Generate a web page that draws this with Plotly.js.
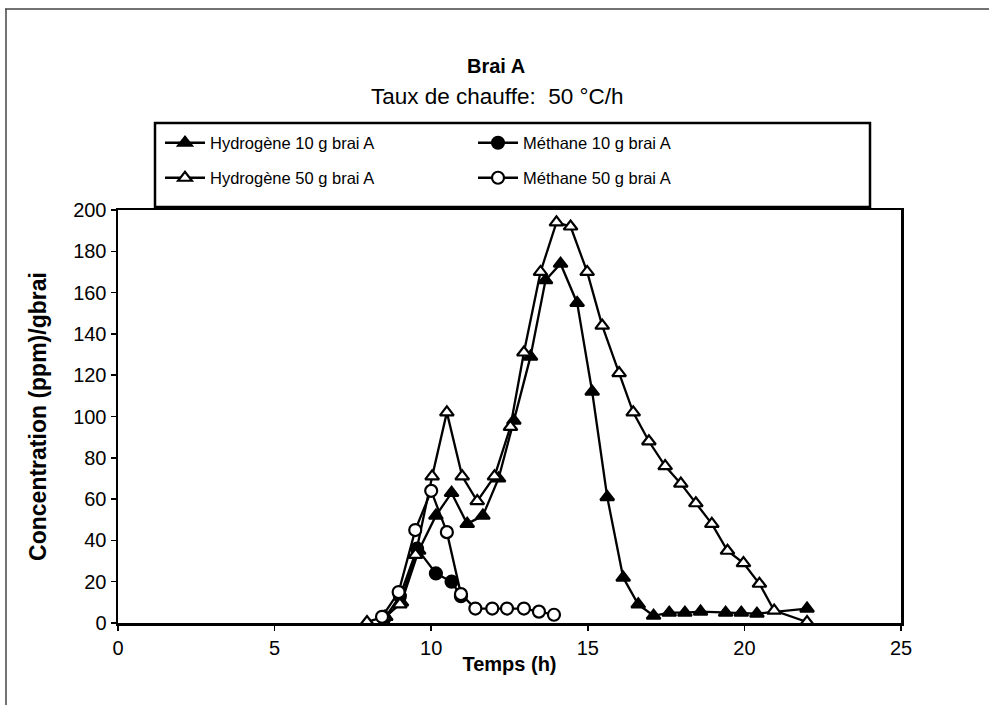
<!DOCTYPE html>
<html>
<head>
<meta charset="utf-8">
<script src="https://cdn.plot.ly/plotly-3.0.1.min.js"></script>
<style>html,body{margin:0;padding:0;background:#fff}#chart{width:989px;height:705px}</style>
</head>
<body>
<div id="chart"></div>
<script>
// ---- data ----
var h2_10_t = [8.55, 9.05, 9.6, 10.15, 10.65, 11.15, 11.65, 12.15, 12.64, 13.17, 13.65, 14.13, 14.66, 15.14, 15.62, 16.13, 16.61, 17.1, 17.6, 18.1, 18.6, 19.4, 19.9, 20.4, 22.0];
var h2_10_v = [3, 10, 35, 52, 63, 48, 52, 70, 98, 129, 166, 174, 155, 112, 61, 22, 9, 3.5, 5, 5, 5.5, 5, 5, 4.5, 7];

var h2_50_t = [7.95, 8.5, 9.0, 9.5, 10.03, 10.5, 10.99, 11.47, 12.02, 12.53, 12.96, 13.49, 14.0, 14.45, 14.98, 15.46, 16.0, 16.45, 16.95, 17.47, 17.97, 18.45, 18.96, 19.46, 19.97, 20.48, 20.95, 22.0];
var h2_50_v = [0.5, 3, 9, 33, 71, 102, 71, 59, 71, 95, 131, 170, 194, 192, 170, 144, 121, 102, 88, 76, 67.5, 58, 48, 35, 29, 19, 6, 0.5];

var ch4_10_t = [8.5, 9.0, 9.55, 10.15, 10.65, 10.95];
var ch4_10_v = [2, 13, 36, 24, 20, 13];

var ch4_50_t = [8.43, 8.96, 9.49, 10.0, 10.5, 10.95, 11.41, 11.95, 12.42, 12.96, 13.44, 13.92];
var ch4_50_v = [3, 15, 45, 64, 44, 14, 7, 7, 7, 7, 5.5, 4];

var names = ["Hydrogène 10 g brai A", "Méthane 10 g brai A", "Hydrogène 50 g brai A", "Méthane 50 g brai A"];
var xTicks = [0, 5, 10, 15, 20, 25];
var yTicks = [0, 20, 40, 60, 80, 100, 120, 140, 160, 180, 200];

var FONT = "Liberation Sans, Arial, sans-serif";

function tr(x, y, name, symbol, fill, leg) {
  return {
    x: x, y: y, name: name, type: "scatter", mode: "lines+markers",
    line: {color: "#000", width: 2.3},
    marker: {symbol: symbol, size: 12, color: fill, line: {color: "#000", width: 2.2}},
    legend: leg, cliponaxis: false
  };
}

var data = [
  tr(h2_10_t, h2_10_v, names[0], "triangle-up", "#000", "legend"),
  tr(ch4_10_t, ch4_10_v, names[1], "circle", "#000", "legend"),
  tr(h2_50_t, h2_50_v, names[2], "triangle-up", "#fff", "legend2"),
  tr(ch4_50_t, ch4_50_v, names[3], "circle", "#fff", "legend2")
];

// pixel -> paper helpers (plot area: x 118..901, y 210..623)
var L = 118, R = 901, T = 210, B = 623;
function px(p) { return (p - L) / (R - L); }
function py(p) { return (B - p) / (B - T); }

var layout = {
  width: 989, height: 705,
  margin: {l: L, r: 989 - R, t: T, b: 705 - B, pad: 0},
  paper_bgcolor: "#fff", plot_bgcolor: "#fff",
  font: {family: FONT, color: "#000", size: 17},
  showlegend: true,
  xaxis: {
    range: [0, 25], tickvals: xTicks, ticks: "outside", ticklen: 5, tickwidth: 1.5, tickcolor: "#000",
    showgrid: false, zeroline: false, showline: true, linecolor: "#000", linewidth: 2.5, mirror: true,
    tickfont: {size: 20, family: FONT},
    title: {text: "<b>Temps (h)</b>", font: {size: 20, family: FONT}, standoff: 0}
  },
  yaxis: {
    range: [0, 200], tickvals: yTicks, ticks: "outside", ticklen: 5, tickwidth: 1.5, tickcolor: "#000",
    showgrid: false, zeroline: false, showline: true, linecolor: "#000", linewidth: 2.5, mirror: true,
    tickfont: {size: 20, family: FONT},
    title: {text: "<b>Concentration (ppm)/gbrai</b>", font: {size: 23, family: FONT}, standoff: 20}
  },
  legend: {
    orientation: "h", x: px(160), xanchor: "left", y: py(143), yanchor: "middle",
    entrywidth: 258, entrywidthmode: "pixels", bgcolor: "rgba(0,0,0,0)", borderwidth: 0,
    font: {size: 16.5, family: FONT}, itemwidth: 40
  },
  legend2: {
    orientation: "h", x: px(160), xanchor: "left", y: py(178), yanchor: "middle",
    entrywidth: 258, entrywidthmode: "pixels", bgcolor: "rgba(0,0,0,0)", borderwidth: 0,
    font: {size: 16.5, family: FONT}, itemwidth: 40
  },
  annotations: [
    {text: "<b>Brai A</b>", xref: "paper", yref: "paper", x: px(496), y: py(66), xanchor: "center", yanchor: "middle", showarrow: false, font: {size: 20, family: FONT}},
    {text: "Taux de chauffe:  50 °C/h", xref: "paper", yref: "paper", x: px(497), y: py(96), xanchor: "center", yanchor: "middle", showarrow: false, font: {size: 22.5, family: FONT}}
  ],
  shapes: [
    // legend box
    {type: "rect", xref: "paper", yref: "paper", x0: px(155), x1: px(870), y0: py(207), y1: py(123), line: {color: "#000", width: 2.5}, fillcolor: "rgba(0,0,0,0)"},
    // outer frame (top and left edges)
    {type: "line", xref: "paper", yref: "paper", x0: px(5), x1: px(989), y0: py(9), y1: py(9), line: {color: "#444", width: 1.5}},
    {type: "line", xref: "paper", yref: "paper", x0: px(6), x1: px(6), y0: py(9), y1: py(705), line: {color: "#444", width: 1.5}}
  ]
};

Plotly.newPlot("chart", data, layout, {displayModeBar: false, staticPlot: true});
</script>
</body>
</html>
